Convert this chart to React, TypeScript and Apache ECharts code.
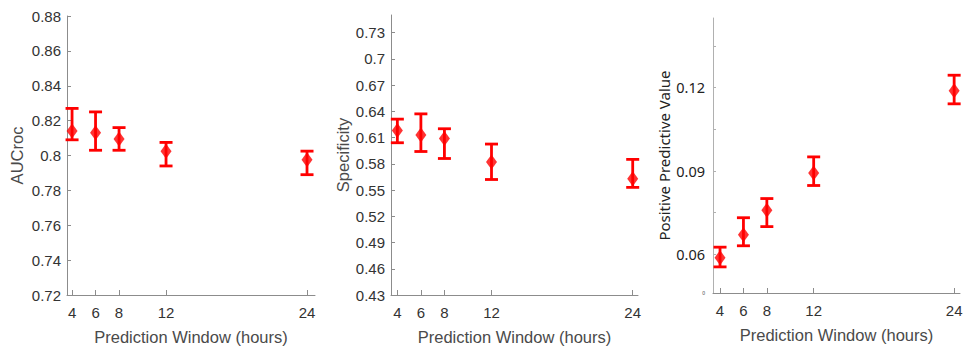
import React, { useEffect, useRef } from "react";
import * as echarts from "echarts";

const hours = [4, 6, 8, 12, 24];
const xTickLabels = [4, 6, 8, 12, 24];

const aucMean = [0.814, 0.813, 0.8095, 0.8025, 0.7975];
const aucLow = [0.809, 0.803, 0.803, 0.794, 0.789];
const aucHigh = [0.827, 0.825, 0.816, 0.8075, 0.8025];
const aucTicks = [0.72, 0.74, 0.76, 0.78, 0.8, 0.82, 0.84, 0.86, 0.88];

const specMean = [0.618, 0.613, 0.609, 0.582, 0.563];
const specLow = [0.604, 0.594, 0.586, 0.562, 0.553];
const specHigh = [0.631, 0.637, 0.62, 0.6025, 0.585];
const specTicks = [0.43, 0.46, 0.49, 0.52, 0.55, 0.58, 0.61, 0.64, 0.67, 0.7, 0.73];

const ppvMean = [0.0587, 0.067, 0.0758, 0.0892, 0.1188];
const ppvLow = [0.0554, 0.063, 0.0699, 0.0847, 0.1141];
const ppvHigh = [0.0625, 0.0731, 0.08, 0.095, 0.1244];
const ppvLabelTicks = [0.046, 0.06, 0.09, 0.12];
const ppvMinorTicks = [0.06, 0.075, 0.09, 0.105, 0.12, 0.135];

const RED = "#ff0000";
const AXIS = "#8c8c8c";
const TXT = "#333333";
const HELV = "'Liberation Sans', Arial, sans-serif";
const CAL = "'Noto Sans', sans-serif";

function errorBarSeries(idx: number, low: number[], high: number[]) {
  return {
    type: "custom",
    xAxisIndex: idx,
    yAxisIndex: idx,
    data: hours.map((h, i) => [h, low[i], high[i]]),
    renderItem: (params: any, api: any) => {
      const x = api.value(0);
      const lo = api.coord([x, api.value(1)]);
      const hi = api.coord([x, api.value(2)]);
      const hw = 6.5;
      const style = { stroke: RED, lineWidth: 2.8 };
      return {
        type: "group",
        children: [
          { type: "line", shape: { x1: lo[0], y1: lo[1], x2: hi[0], y2: hi[1] }, style },
          { type: "line", shape: { x1: hi[0] - hw, y1: hi[1], x2: hi[0] + hw, y2: hi[1] }, style },
          { type: "line", shape: { x1: lo[0] - hw, y1: lo[1], x2: lo[0] + hw, y2: lo[1] }, style },
        ],
      };
    },
    z: 2,
  };
}

function meanSeries(idx: number, mean: number[]) {
  return {
    type: "scatter",
    xAxisIndex: idx,
    yAxisIndex: idx,
    symbol: "diamond",
    symbolSize: [11, 15],
    itemStyle: { color: RED },
    data: hours.map((h, i) => [h, mean[i]]),
    z: 3,
  };
}

function xAxis(idx: number, min: number, max: number) {
  return {
    type: "value",
    gridIndex: idx,
    min,
    max,
    name: "Prediction Window (hours)",
    nameLocation: "middle",
    nameGap: 33,
    nameTextStyle: { fontFamily: HELV, fontSize: 16.5, color: "#4a4a4a" },
    axisLine: { show: true, lineStyle: { color: AXIS, width: 1 } },
    axisTick: { show: true, inside: true, length: 5, customValues: xTickLabels, lineStyle: { color: AXIS } },
    axisLabel: {
      customValues: xTickLabels,
      margin: 10,
      fontFamily: HELV,
      fontSize: 15,
      color: TXT,
    },
    splitLine: { show: false },
  };
}

export default function App() {
  const ref = useRef<HTMLDivElement>(null);
  useEffect(() => {
    if (!ref.current) return;
    const chart = echarts.init(ref.current, undefined, { renderer: "svg" });
    const option: any = {
      animation: false,
      backgroundColor: "#ffffff",
      grid: [
        { left: 67, top: 16, width: 248, height: 279 },
        { left: 391, top: 15, width: 247, height: 280 },
        { left: 713, top: 18, width: 247, height: 275 },
      ],
      xAxis: [xAxis(0, 3.57, 24.68), xAxis(1, 3.46, 24.45), xAxis(2, 3.4, 24.5)],
      yAxis: [
        {
          type: "value",
          gridIndex: 0,
          min: 0.72,
          max: 0.88,
          name: "AUCroc",
          nameLocation: "middle",
          nameGap: 42,
          nameTextStyle: { fontFamily: HELV, fontSize: 16.5, color: "#4a4a4a" },
          axisLine: { show: true, lineStyle: { color: AXIS } },
          axisTick: { show: true, inside: true, length: 4, customValues: aucTicks, lineStyle: { color: AXIS } },
          axisLabel: { customValues: aucTicks, margin: 6, fontFamily: HELV, fontSize: 15, color: TXT },
          splitLine: { show: false },
        },
        {
          type: "value",
          gridIndex: 1,
          min: 0.43,
          max: 0.75,
          name: "Specificity",
          nameLocation: "middle",
          nameGap: 40,
          nameTextStyle: { fontFamily: HELV, fontSize: 16.5, color: "#4a4a4a" },
          axisLine: { show: true, lineStyle: { color: AXIS } },
          axisTick: { show: true, inside: true, length: 4, customValues: specTicks, lineStyle: { color: AXIS } },
          axisLabel: { customValues: specTicks, margin: 6, fontFamily: HELV, fontSize: 15, color: TXT },
          splitLine: { show: false },
        },
        {
          type: "value",
          gridIndex: 2,
          min: 0.046,
          max: 0.145,
          name: "Positive Predictive Value",
          nameLocation: "middle",
          nameGap: 42,
          nameTextStyle: { fontFamily: CAL, fontSize: 15, color: "#222222" },
          axisLine: { show: true, lineStyle: { color: "#b0b0b0" } },
          axisTick: { show: true, inside: true, length: 3, customValues: ppvMinorTicks, lineStyle: { color: "#b0b0b0" } },
          axisLabel: {
            customValues: ppvLabelTicks,
            margin: 8,
            fontFamily: CAL,
            fontSize: 14.5,
            color: "#222222",
            formatter: (v: number) => (v < 0.05 ? "{s|0}" : String(v)),
            rich: { s: { fontSize: 5, color: "#444444", fontFamily: CAL } },
          },
          splitLine: { show: false },
        },
      ],
      series: [
        errorBarSeries(0, aucLow, aucHigh),
        meanSeries(0, aucMean),
        errorBarSeries(1, specLow, specHigh),
        meanSeries(1, specMean),
        errorBarSeries(2, ppvLow, ppvHigh),
        meanSeries(2, ppvMean),
      ],
    };
    chart.setOption(option);
    return () => chart.dispose();
  }, []);
  return (
    <div
      ref={ref}
      style={{ position: "fixed", left: 0, top: 0, width: 969, height: 354, background: "#fff" }}
    />
  );
}
